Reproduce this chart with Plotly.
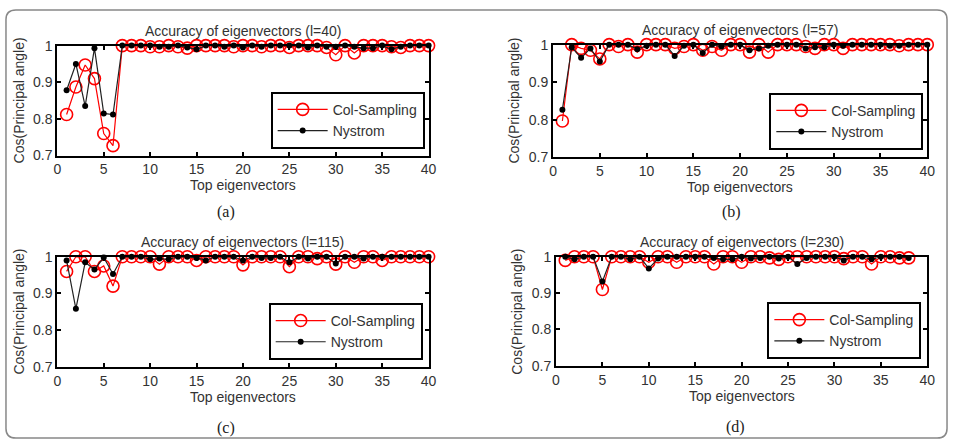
import plotly.graph_objects as go

# ---------------- data ----------------
x40 = list(range(1, 41))
x38 = list(range(1, 39))

col_a = [0.812, 0.887, 0.947, 0.910, 0.760, 0.727, 1.0, 1.0, 1.0, 0.997,
         0.997, 1.0, 0.997, 0.993, 1.0, 1.0, 1.0, 1.0, 0.997, 1.0,
         1.0, 0.997, 1.0, 1.0, 0.995, 1.0, 1.0, 1.0, 0.995, 0.975,
         1.0, 0.980, 1.0, 1.0, 1.0, 0.997, 0.995, 1.0, 1.0, 1.0]
nys_a = [0.878, 0.950, 0.835, 0.993, 0.815, 0.812, 1.0, 1.0, 1.0, 1.0,
         0.997, 0.997, 1.0, 0.995, 0.990, 1.0, 1.0, 0.997, 1.0, 0.995,
         1.0, 0.997, 1.0, 1.0, 1.0, 1.0, 0.995, 1.0, 0.997, 0.997,
         1.0, 0.997, 0.993, 0.993, 1.0, 0.990, 0.997, 1.0, 1.0, 1.0]

col_b = [0.797, 1.0, 0.990, 0.985, 0.962, 1.0, 0.995, 1.0, 0.980, 1.0,
         1.0, 1.0, 0.990, 0.995, 1.0, 0.985, 0.995, 0.985, 1.0, 1.0,
         0.980, 1.0, 0.980, 1.0, 1.0, 1.0, 0.995, 0.990, 1.0, 1.0,
         0.990, 1.0, 1.0, 1.0, 1.0, 1.0, 0.997, 1.0, 1.0, 1.0]
nys_b = [0.827, 0.993, 0.965, 0.990, 0.955, 1.0, 1.0, 1.0, 0.988, 0.997,
         1.0, 1.0, 0.970, 0.997, 1.0, 0.978, 1.0, 0.995, 1.0, 1.0,
         0.985, 0.990, 0.997, 1.0, 1.0, 1.0, 0.990, 0.993, 0.993, 1.0,
         0.997, 1.0, 1.0, 1.0, 1.0, 0.997, 0.997, 1.0, 1.0, 1.0]

col_c = [0.960, 1.0, 1.0, 0.960, 0.975, 0.920, 1.0, 1.0, 1.0, 1.0,
         0.980, 1.0, 1.0, 1.0, 0.990, 1.0, 1.0, 1.0, 1.0, 0.978,
         1.0, 1.0, 1.0, 1.0, 0.973, 1.0, 1.0, 0.995, 1.0, 0.980,
         1.0, 0.985, 1.0, 1.0, 0.990, 1.0, 1.0, 1.0, 1.0, 1.0]
nys_c = [0.990, 0.858, 0.985, 0.965, 0.998, 0.953, 1.0, 1.0, 1.0, 0.993,
         0.995, 0.993, 1.0, 1.0, 0.997, 0.990, 1.0, 1.0, 1.0, 0.990,
         1.0, 0.997, 0.997, 1.0, 0.985, 1.0, 0.995, 1.0, 1.0, 0.982,
         1.0, 1.0, 0.995, 1.0, 1.0, 1.0, 1.0, 1.0, 1.0, 1.0]

col_d = [0.990, 1.0, 1.0, 1.0, 0.910, 1.0, 1.0, 1.0, 1.0, 0.985,
         1.0, 1.0, 0.985, 1.0, 1.0, 1.0, 0.980, 1.0, 1.0, 0.985,
         1.0, 1.0, 0.997, 0.993, 1.0, 1.0, 1.0, 1.0, 1.0, 1.0,
         0.995, 1.0, 1.0, 0.980, 1.0, 1.0, 0.997, 0.997]
nys_d = [1.0, 0.993, 1.0, 1.0, 0.932, 1.0, 1.0, 0.993, 1.0, 0.968,
         0.995, 1.0, 1.0, 1.0, 1.0, 1.0, 0.997, 0.993, 0.993, 1.0,
         0.995, 0.997, 1.0, 0.995, 1.0, 0.980, 0.997, 1.0, 1.0, 1.0,
         0.990, 1.0, 1.0, 0.993, 1.0, 1.0, 1.0, 0.997]

titles = ["Accuracy of eigenvectors (l=40)", "Accuracy of eigenvectors (l=57)",
          "Accuracy of eigenvectors (l=115)", "Accuracy of eigenvectors (l=230)"]
panel_labels = ["(a)", "(b)", "(c)", "(d)"]
series_names = ["Col-Sampling", "Nystrom"]
x_ticks = [0, 5, 10, 15, 20, 25, 30, 35, 40]
y_ticks = [0.7, 0.8, 0.9, 1.0]
y_tick_text = ["0.7", "0.8", "0.9", "1"]

panels = [(x40, col_a, nys_a), (x40, col_b, nys_b), (x40, col_c, nys_c), (x38, col_d, nys_d)]

# ---------------- layout geometry (pixels) ----------------
W, H = 957, 448
# axes boxes: (left, right, top, bottom)
boxes = [(54, 430, 39, 153), (556, 935, 38, 155), (54, 430, 258, 372), (559, 935, 258, 371)]
# legend boxes: (right, bottom)
leg_pos = [(426, 146), (931, 147), (424, 365), (929, 364)]
label_pos = [(225, 212), (737, 212), (225, 436), (741, 435)]

FONT = "Liberation Sans, Arial, sans-serif"
TXT = "#333333"
FS = 14

fig = go.Figure()
layout = dict(width=W, height=H, margin=dict(l=0, r=0, t=0, b=0),
              paper_bgcolor="white", plot_bgcolor="white",
              font=dict(family=FONT, size=FS, color=TXT), annotations=[], shapes=[])


def ann(text, px, py, size=FS, family=FONT, color=TXT, angle=0):
    return dict(text=text, x=px / W, y=1 - py / H, xref="paper", yref="paper",
                xanchor="center", yanchor="middle", showarrow=False, textangle=angle,
                font=dict(family=family, size=size, color=color))


for i, (xs, col, nys) in enumerate(panels):
    n = "" if i == 0 else str(i + 1)
    xa, ya = "x" + n, "y" + n
    leg = "legend" + n
    fig.add_trace(go.Scatter(x=xs, y=col, mode="lines+markers", name=series_names[0],
                             xaxis=xa, yaxis=ya, legend=leg, cliponaxis=False,
                             line=dict(color="#ff0000", width=1.2),
                             marker=dict(symbol="circle-open", size=12, color="#ff0000",
                                         line=dict(width=1.6, color="#ff0000"))))
    fig.add_trace(go.Scatter(x=xs, y=nys, mode="lines+markers", name=series_names[1],
                             xaxis=xa, yaxis=ya, legend=leg, cliponaxis=False,
                             line=dict(color="#222222", width=1.2),
                             marker=dict(symbol="circle", size=6, color="#000000")))
    l, r, t, b = boxes[i]
    axis_common = dict(showline=True, linecolor="black", linewidth=2, mirror="allticks",
                       ticks="inside", ticklen=4, tickcolor="black", tickwidth=1.5,
                       showgrid=False, zeroline=False,
                       tickfont=dict(family=FONT, size=FS, color=TXT))
    layout["xaxis" + n] = dict(domain=[l / W, r / W], anchor=ya, range=[0, 40],
                               tickvals=x_ticks, **axis_common)
    layout["yaxis" + n] = dict(domain=[1 - b / H, 1 - t / H], anchor=xa, range=[0.7, 1.0],
                               tickvals=y_ticks, ticktext=y_tick_text, **axis_common)
    lr, lb = leg_pos[i]
    layout[leg] = dict(x=lr / W, y=1 - lb / H, xanchor="right", yanchor="bottom",
                       bgcolor="white", bordercolor="black", borderwidth=2,
                       font=dict(family=FONT, size=14, color=TXT),
                       tracegroupgap=0, itemwidth=50)
    cx = (l + r) / 2
    layout["annotations"] += [
        ann(titles[i], cx, t - 15),
        ann("Top eigenvectors", cx, b + 31),
        ann("Cos(Principal angle)", l - 39, (t + b) / 2, angle=-90),
        ann(panel_labels[i], label_pos[i][0], label_pos[i][1], size=16,
            family="Liberation Serif, Times New Roman, serif", color="#222222"),
    ]

# outer rounded frame (pixel coordinates converted to paper)
rad = 10
x0, y0, x1, y1 = 2, 2, W - 2, H - 2


def P(a, c):
    return f"{a / W:.5f},{1 - c / H:.5f}"


path = (f"M {P(x0 + rad, y0)} L {P(x1 - rad, y0)} Q {P(x1, y0)} {P(x1, y0 + rad)} "
        f"L {P(x1, y1 - rad)} Q {P(x1, y1)} {P(x1 - rad, y1)} L {P(x0 + rad, y1)} "
        f"Q {P(x0, y1)} {P(x0, y1 - rad)} L {P(x0, y0 + rad)} Q {P(x0, y0)} {P(x0 + rad, y0)} Z")
layout["shapes"].append(dict(type="path", path=path, xref="paper", yref="paper",
                             line=dict(color="#888888", width=1.5)))

fig.update_layout(**layout)
fig.write_html("out.html")
